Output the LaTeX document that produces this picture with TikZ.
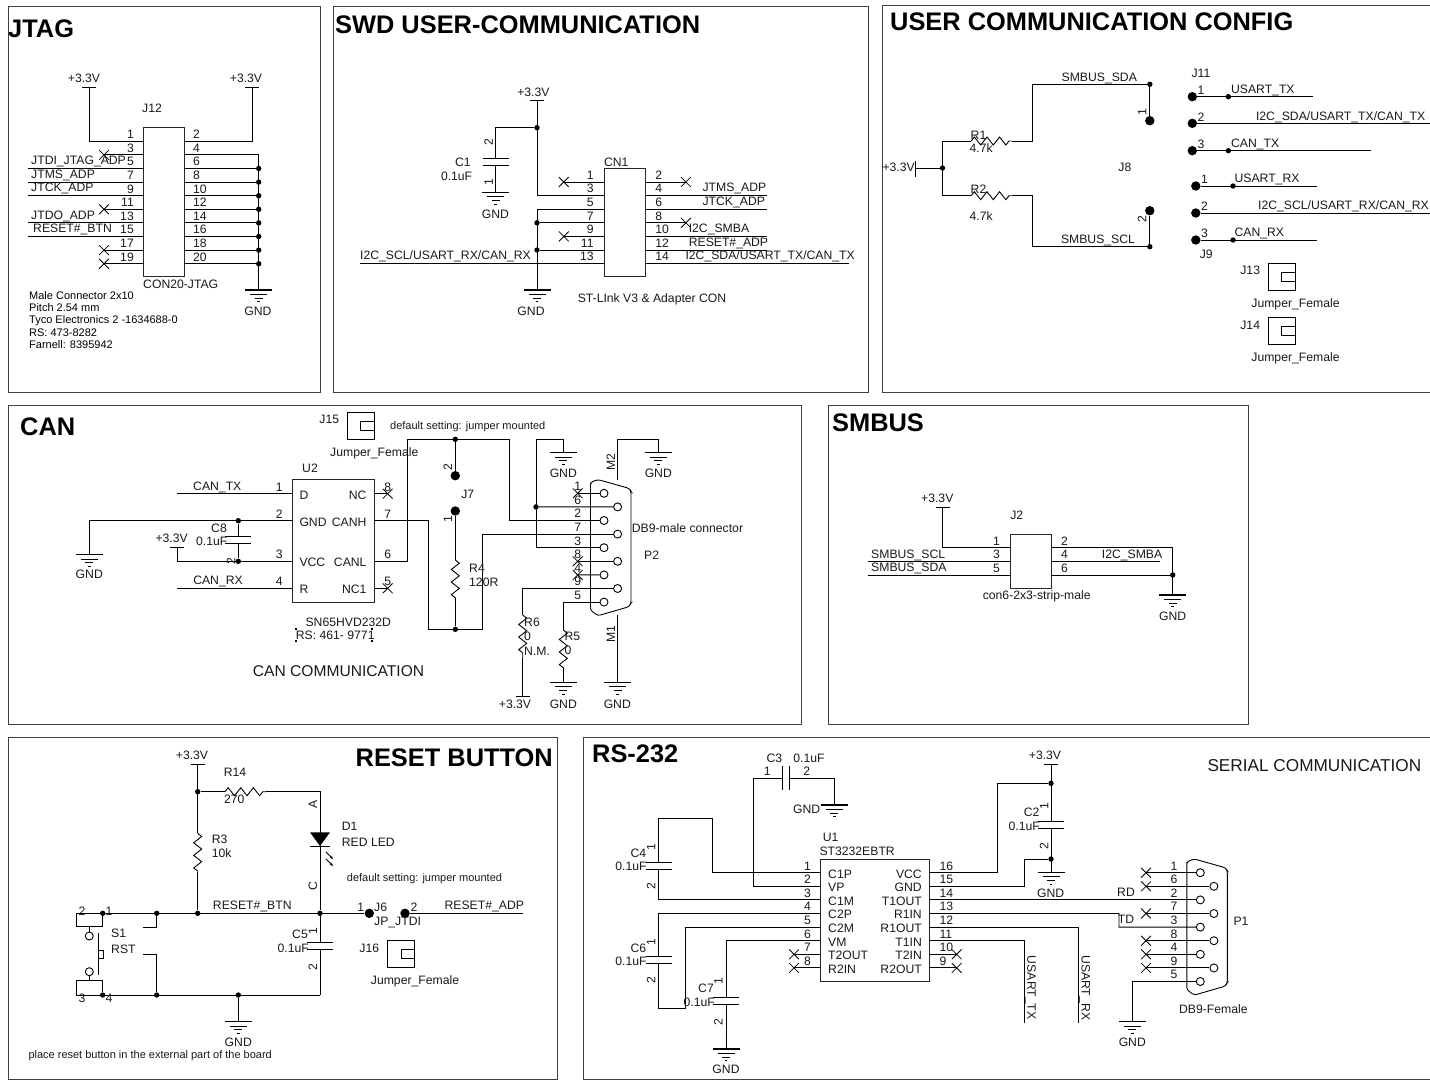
\documentclass[tikz,border=0pt]{standalone}
\usepackage{fontspec}
\setmainfont{Liberation Sans}
\usetikzlibrary{arrows.meta,shapes.misc,decorations.pathmorphing}

\begin{document}
\begin{tikzpicture}[x=1pt, y=-1pt,
    wire/.style={draw=black, line width=0.9pt},
    res/.style={decorate, decoration={zigzag, segment length=12.6pt, amplitude=4pt}},
    panel/.style={draw=black!75, line width=1pt},
    boxed/.style={draw=black!85, line width=1pt, inner sep=0pt, minimum width=#1},
    jdot/.style={circle, fill=black, inner sep=0pt, minimum size=5.4pt},
    bigdot/.style={circle, fill=black, inner sep=0pt, minimum size=9.4pt},
    pinring/.style={circle, draw=black, line width=0.9pt, fill=white, inner sep=0pt, minimum size=8pt},
    ncx/.style={cross out, draw=black, line width=0.8pt, inner sep=0pt, minimum size=9pt},
    lbl/.style={font=\fontsize{12.2pt}{13pt}\selectfont, inner sep=0pt, text height=8.7pt, text depth=0pt, text=black!90},
    small/.style={lbl, font=\fontsize{11pt}{12pt}\selectfont, text height=7.9pt},
    head/.style={font=\fontsize{25.4pt}{27pt}\selectfont\bfseries, inner sep=0pt, text height=18pt, text depth=0pt},
    pinrot/.style={lbl, rotate=90},
    pics/gndsym/.style={code={
        \draw[line width=1.1pt] (-13.5,0) -- (13.5,0);
        \draw[line width=0.8pt] (-8.5,4.2) -- (8.5,4.2);
        \draw[line width=0.8pt] (-4,8) -- (4,8);
        \draw[line width=0.8pt] (-1.3,11.7) -- (1.3,11.7);
    }},
    pics/vccsym/.style={code={\draw[line width=1pt] (-7,0) -- (7,0);}},
    pics/capv/.style={code={
        \fill[white] (-13,-3.5) rectangle (13,3.5);
        \draw[line width=1pt] (-13,-3.5) -- (13,-3.5);
        \draw[line width=1pt] (-13,3.5) -- (13,3.5);
    }},
    pics/caph/.style={code={
        \fill[white] (-3.6,-12) rectangle (3.6,12);
        \draw[line width=1pt] (-3.6,-12) -- (-3.6,12);
        \draw[line width=1pt] (3.6,-12) -- (3.6,12);
    }},
    pics/jumperf/.style={code={
        \draw[line width=1pt] (-13.5,-13.5) rectangle (13.5,13.5);
        \draw[line width=0.9pt] (0,-4.2) rectangle (13.5,4.2);
    }},
    pics/db9/.style={code={
        \draw[wire, rounded corners=2.5pt] (-13.5,-8) -- (-13.5,-11) -- (-6,-13.7) -- (25,-5) -- (27,-2)
            -- (27,110) -- (25,113.4) -- (-6,122.4) -- (-13.5,117) -- cycle;
        \foreach \n/\px/\py in {1/0/0,6/13.6/13.6,2/0/27.2,7/13.6/40.8,3/0/54.4,8/13.6/68,4/0/81.6,9/13.6/95.2,5/0/108.8} {
            \node[pinring] (pin\n) at (\px,\py) {};
            \node[lbl] (num\n) at (-26.3,\py-7) {\n};
        }
    }}]
    \useasboundingbox (0,0) rectangle (1430,1080);

    % Sheet frames
    \foreach \xa/\ya/\xb/\yb in {8/6/320/392, 333/6/868/392, 882/5.5/1445/392, 8/405/801/724,
        828/405/1248/724, 8/737/557/1079.5, 583/737/1445/1079.5}
        \draw[panel] (\xa,\ya) rectangle (\xb,\yb);

    % Titles
    \node[head, anchor=west] (tJtag) at (8,28) {JTAG};
    \node[head, anchor=west] (tSwd) at (335,24) {SWD USER-COMMUNICATION};
    \node[head, anchor=west] (tUser) at (890,21) {USER COMMUNICATION CONFIG};
    \node[head, anchor=west] (tCan) at (20,426) {CAN};
    \node[head, anchor=west] (tSmbus) at (832,422) {SMBUS};
    \node[head, anchor=east] (tReset) at (553,757) {RESET BUTTON};
    \node[head, anchor=west] (tRs) at (592,753) {RS-232};

    % JTAG connector
    \node[boxed=41.5pt, minimum height=148.5pt] (J12) at (163.75,201.75) {};
    \node[lbl] (nJ12) at (152,108) {J12};
    \node[lbl] (vJa) at (84,78) {+3.3V};
    \node[lbl] (vJb) at (246,78) {+3.3V};
    \coordinate (jva) at (89,87);
    \coordinate (jvb) at (252,87);
    \pic at (jva) {vccsym};
    \pic at (jvb) {vccsym};
    \foreach \n/\y in {1/141.3,3/154.9,5/168.5,7/182.1,9/195.7,11/209.3,13/222.9,15/236.5,17/250.1,19/263.7} {
        \coordinate (jtl\n) at (143,\y);
        \node[lbl, anchor=east] (jtn\n) at (134,\y-7) {\n};
    }
    \foreach \n/\y in {2/141.3,4/154.9,6/168.5,8/182.1,10/195.7,12/209.3,14/222.9,16/236.5,18/250.1,20/263.7} {
        \coordinate (jtr\n) at (184.5,\y);
        \node[lbl, anchor=west] (jtn\n) at (193,\y-7) {\n};
    }
    \foreach \n/\y in {5/168.5,7/182.1,9/195.7,13/222.9,15/236.5} {
        \coordinate (jte\n) at (28,\y);
        \draw[wire] (jte\n) -- (jtl\n);
    }
    \foreach \n/\y in {3/154.9,11/209.3,17/250.1,19/263.7} {
        \node[ncx] (jtx\n) at (104,\y) {};
        \draw[wire] (jtx\n.center) -- (jtl\n);
    }
    \foreach \n/\y in {6/168.5,8/182.1,10/195.7,12/209.3,14/222.9,16/236.5,18/250.1,20/263.7} {
        \node[jdot] (jtb\n) at (258.7,\y) {};
        \draw[wire] (jtb\n) -- (jtr\n);
    }
    \coordinate (jtg) at (258.7,290);
    \coordinate (jtc) at (258.7,154.9);
    \draw[wire] (jva) |- (jtl1);
    \draw[wire] (jvb) |- (jtr2);
    \draw[wire] (jtr4) -- (jtc) -- (jtg);
    \pic at (jtg) {gndsym};
    \node[lbl] (gJ) at (258,311) {GND};
    \node[lbl, anchor=west] (sJa) at (31,160) {JTDI\_JTAG\_ADP};
    \node[lbl, anchor=west] (sJb) at (31,174) {JTMS\_ADP};
    \node[lbl, anchor=west] (sJc) at (31,187) {JTCK\_ADP};
    \node[lbl, anchor=west] (sJd) at (31,215) {JTDO\_ADP};
    \node[lbl, anchor=west] (sJe) at (33,228) {RESET\#\_BTN};
    \node[lbl, anchor=west] (mJ12) at (143,284) {CON20-JTAG};
    \node[font=\fontsize{11pt}{12.4pt}\selectfont, inner sep=0pt, align=left, anchor=north west] (noteJ) at (29,291)
        {Male Connector 2x10\\Pitch 2.54 mm\\Tyco Electronics 2 -1634688-0\\RS: 473-8282\\Farnell: 8395942};

    % ST-Link connector
    \node[boxed=40.7pt, minimum height=108.4pt] (CN1) at (625.15,222.5) {};
    \node[lbl] (nCN1) at (616.2,161.7) {CN1};
    \node[lbl] (vS) at (533.4,92) {+3.3V};
    \coordinate (sv) at (537,100.7);
    \pic at (sv) {vccsym};
    \foreach \n/\y in {1/182,3/195.6,5/209.2,7/222.8,9/236.4,11/250,13/263.6} {
        \coordinate (cnl\n) at (604.8,\y);
        \node[lbl, anchor=east] (cnn\n) at (593.8,\y-7) {\n};
    }
    \foreach \n/\y in {2/182,4/195.6,6/209.2,8/222.8,10/236.4,12/250,14/263.6} {
        \coordinate (cnr\n) at (645.5,\y);
        \node[lbl, anchor=west] (cnn\n) at (655.2,\y-7) {\n};
    }
    \foreach \n/\y in {1/182,9/236.4} {
        \node[ncx] (cnx\n) at (563.8,\y) {};
        \draw[wire] (cnx\n.center) -- (cnl\n);
    }
    \foreach \n/\y in {2/182,8/222.8} {
        \node[ncx] (cnx\n) at (685.9,\y) {};
        \draw[wire] (cnx\n.center) -- (cnr\n);
    }
    \foreach \n/\y/\e in {4/195.6/767.2,6/209.2/767.2,10/236.4/767.2,12/250/767.2,14/263.6/849} {
        \coordinate (cne\n) at (\e,\y);
        \draw[wire] (cnr\n) -- (cne\n);
    }
    \node[jdot] (sj) at (537,127.7) {};
    \node[jdot] (sj7) at (537,222.8) {};
    \node[jdot] (sj11) at (537,250) {};
    \coordinate (sc) at (495.5,127.7);
    \coordinate (sg) at (495.5,192.3);
    \coordinate (sb) at (537,209.2);
    \coordinate (sgb) at (537,290);
    \coordinate (se13) at (360.3,263.6);
    \draw[wire] (sv) |- (cnl3);
    \draw[wire] (sj) -- (sc) -- (sg);
    \draw[wire] (cnl5) -- (sb) -- (sgb);
    \draw[wire] (sj7) -- (cnl7);
    \draw[wire] (sj11) -- (cnl11);
    \draw[wire] (se13) -- (cnl13);
    \pic at (495.5,162.3) {capv};
    \pic at (sg) {gndsym};
    \pic at (sgb) {gndsym};
    \node[pinrot] (c1b) at (488.6,142) {2};
    \node[pinrot] (c1a) at (488.6,181.7) {1};
    \node[lbl] (nC1) at (462.8,162) {C1};
    \node[lbl] (vC1) at (456.6,176) {0.1uF};
    \node[lbl] (gSa) at (495.5,214) {GND};
    \node[lbl] (gSb) at (531,311) {GND};
    \node[lbl, anchor=east] (sSa) at (531,255) {I2C\_SCL/USART\_RX/CAN\_RX};
    \node[lbl, anchor=west] (sSb) at (702.4,186.7) {JTMS\_ADP};
    \node[lbl, anchor=west] (sSc) at (702.4,200.7) {JTCK\_ADP};
    \node[lbl, anchor=west] (sSd) at (688.6,227.7) {I2C\_SMBA};
    \node[lbl, anchor=west] (sSe) at (688.6,241.7) {RESET\#\_ADP};
    \node[lbl, anchor=east] (sSf) at (855,255) {I2C\_SDA/USART\_TX/CAN\_TX};
    \node[lbl, anchor=west] (mCN1) at (577.6,297.7) {ST-LInk V3 \& Adapter CON};

    % User communication config
    \coordinate (uv) at (915.8,168);
    \node[jdot] (uj) at (942.5,168) {};
    \coordinate (ua) at (942.5,141);
    \coordinate (ub) at (942.5,195.7);
    \coordinate (r1a) at (971.2,141);
    \coordinate (r1b) at (1011.6,141);
    \coordinate (r2a) at (971.2,195.7);
    \coordinate (r2b) at (1011.6,195.7);
    \coordinate (ua2) at (1032,84.3);
    \coordinate (ub2) at (1032,246.7);
    \node[jdot] (j8a) at (1149.8,84.3) {};
    \node[jdot] (j8b) at (1149.8,246.7) {};
    \node[bigdot] (j8c) at (1149.8,120.7) {};
    \node[bigdot] (j8d) at (1149.8,210.7) {};
    \draw[line width=1pt] (915.8,161) -- (915.8,177);
    \draw[wire] (uv) -- (uj);
    \draw[wire] (r1a) -- (ua) -- (ub) -- (r2a);
    \draw[wire, res] (r1a) -- (r1b);
    \draw[wire, res] (r2a) -- (r2b);
    \draw[wire] (r1b) -| (ua2) -- (j8a) -- (j8c);
    \draw[wire] (r2b) -| (ub2) -- (j8b) -- (j8d);
    \node[lbl, anchor=east] (vU) at (915,166.7) {+3.3V};
    \node[lbl, anchor=west] (nR1) at (970.5,135) {R1};
    \node[lbl, anchor=west] (vR1) at (969.5,148) {4.7k};
    \node[lbl, anchor=west] (nR2) at (970.5,189) {R2};
    \node[lbl, anchor=west] (vR2) at (969.5,215.7) {4.7k};
    \node[lbl] (sUa) at (1099.3,76.7) {SMBUS\_SDA};
    \node[lbl] (sUb) at (1098,238.7) {SMBUS\_SCL};
    \node[pinrot] (j8p1) at (1142,112) {1};
    \node[pinrot] (j8p2) at (1142,219) {2};
    \node[lbl] (nJ8) at (1124.9,167) {J8};
    \node[lbl] (nJ11) at (1201,72.7) {J11};
    \node[lbl] (nJ9) at (1206.3,254) {J9};
    \foreach \n/\y/\e in {1/96.7/1312.6, 2/123.3/1445, 3/150.7/1371.2} {
        \node[bigdot] (jxa\n) at (1192.3,\y) {};
        \coordinate (jxe\n) at (\e,\y);
        \draw[wire] (jxa\n) -- (jxe\n);
        \node[lbl] (jxn\n) at (1201,\y-6.5) {\n};
    }
    \node[jdot] (jxd1) at (1228.4,96.7) {};
    \node[jdot] (jxd3) at (1228.4,150.7) {};
    \foreach \n/\y/\e in {1/186/1317.2, 2/213/1445, 3/240/1317.2} {
        \node[bigdot] (jya\n) at (1195.8,\y) {};
        \coordinate (jye\n) at (\e,\y);
        \draw[wire] (jya\n) -- (jye\n);
        \node[lbl] (jyn\n) at (1204.6,\y-7) {\n};
    }
    \node[jdot] (jyd1) at (1233,186) {};
    \node[jdot] (jyd3) at (1233,240) {};
    \node[lbl, anchor=west] (sXa) at (1230.9,88.7) {USART\_TX};
    \node[lbl, anchor=east] (sXb) at (1425.5,115.7) {I2C\_SDA/USART\_TX/CAN\_TX};
    \node[lbl, anchor=west] (sXc) at (1230.9,142.7) {CAN\_TX};
    \node[lbl, anchor=west] (sYa) at (1234.4,178) {USART\_RX};
    \node[lbl, anchor=east] (sYb) at (1429,204.7) {I2C\_SCL/USART\_RX/CAN\_RX};
    \node[lbl, anchor=west] (sYc) at (1234.4,232) {CAN\_RX};
    \pic at (1281.5,277) {jumperf};
    \pic at (1281.5,331) {jumperf};
    \node[lbl] (nJ13) at (1250.2,270) {J13};
    \node[lbl] (nJ14) at (1250.2,325) {J14};
    \node[lbl] (mJ13) at (1295.5,302.7) {Jumper\_Female};
    \node[lbl] (mJ14) at (1295.5,356.7) {Jumper\_Female};

    % CAN transceiver and DB9 male
    \node[boxed=81.7pt, minimum height=122.3pt] (U2) at (333.15,540.85) {};
    \node[lbl] (nU2) at (310,468) {U2};
    \pic (p2) at (604,493.3) {db9};
    \foreach \n/\t/\y in {1/D/493.7,2/GND/520.7,3/VCC/561.3,4/R/588.3} {
        \coordinate (u2l\n) at (292.3,\y);
        \node[lbl] (u2n\n) at (279.3,\y-7) {\n};
        \node[lbl, anchor=west] (u2t\n) at (299.3,\y+1.3) {\t};
    }
    \foreach \n/\t/\y in {8/NC/493.7,7/CANH/520.7,6/CANL/561.3,5/NC1/588.3} {
        \coordinate (u2r\n) at (374,\y);
        \node[lbl] (u2n\n) at (387.7,\y-7) {\n};
        \node[lbl, anchor=east] (u2t\n) at (366.7,\y+1.3) {\t};
    }
    \foreach \n/\y in {8/493.7,5/588.3} {
        \node[ncx] (u2x\n) at (387.7,\y) {};
        \draw[wire] (u2x\n.center) -- (u2r\n);
    }
    \coordinate (cl1) at (177.3,493.7);
    \coordinate (cl4) at (177.3,588.3);
    \coordinate (cg) at (89.3,554.7);
    \coordinate (cgb) at (89.3,520.7);
    \coordinate (cv) at (177.3,547.7);
    \coordinate (cvb) at (177.3,561.3);
    \node[jdot] (c8a) at (238.3,520.7) {};
    \node[jdot] (c8b) at (238.3,561.3) {};
    \draw[wire] (cl1) -- (u2l1);
    \draw[wire] (cl4) -- (u2l4);
    \draw[wire] (cg) -- (cgb) -- (u2l2);
    \draw[wire] (cv) -- (cvb) -- (u2l3);
    \draw[wire] (c8a) -- (c8b);
    \pic at (238.3,540.4) {capv};
    \pic at (cg) {gndsym};
    \pic at (cv) {vccsym};
    \node[lbl] (gCa) at (89.3,574) {GND};
    \node[lbl] (vCa) at (171.7,537.7) {+3.3V};
    \node[lbl] (sCa) at (217.3,486) {CAN\_TX};
    \node[lbl] (sCb) at (218,580) {CAN\_RX};
    \node[lbl] (nC8) at (219,527.7) {C8};
    \node[lbl] (vC8) at (211.7,541) {0.1uF};
    \node[pinrot] (c8p2) at (231,561) {2};
    \node[lbl] (mU2) at (348.3,621.7) {SN65HVD232D};
    \node[lbl, anchor=west] (rsU2) at (295.7,635) {RS: 461- 9771};
    \foreach \x/\y in {295.7/629,372/629,295.7/641,372/641}
        \fill (\x-1,\y-1) rectangle (\x+1,\y+1);
    \node[lbl, font=\fontsize{15.6pt}{17pt}\selectfont, text height=11.4pt, anchor=west] (mCan) at (252.7,670.7) {CAN COMMUNICATION};
    \pic at (360.5,425.8) {jumperf};
    \node[lbl] (nJ15) at (329.3,419) {J15};
    \node[lbl] (mJ15) at (374.3,451.7) {Jumper\_Female};
    \node[small, anchor=west] (dfC) at (390,426) {default setting: jumper mounted};

    % Bus wiring, jumper J7 and terminator
    \coordinate (hb) at (428.3,629.3);
    \coordinate (hc) at (482.3,629.3);
    \coordinate (la) at (407.7,439.3);
    \coordinate (lb) at (509.3,439.3);
    \node[jdot] (j7t) at (455.3,439.3) {};
    \node[jdot] (j7b) at (455.3,629.3) {};
    \node[bigdot] (j7p2) at (455.3,475.7) {};
    \node[bigdot] (j7p1) at (455.3,511) {};
    \coordinate (r4a) at (455.3,560);
    \coordinate (r4b) at (455.3,601);
    \draw[wire] (u2r7) -| (hb) -- (hc) |- (p2pin7);
    \draw[wire] (u2r6) -| (la) -- (lb) |- (p2pin2);
    \draw[wire] (j7t) -- (j7p2);
    \draw[wire] (j7p1) -- (r4a);
    \draw[wire, res] (r4a) -- (r4b);
    \draw[wire] (r4b) -- (j7b);
    \node[pinrot] (j7n2) at (447.7,467.3) {2};
    \node[pinrot] (j7n1) at (447.7,519.3) {1};
    \node[lbl] (nJ7) at (467.7,494) {J7};
    \node[lbl, anchor=west] (nR4) at (469,567.7) {R4};
    \node[lbl, anchor=west] (vR4) at (469,581.7) {120R};
    \node[jdot] (p2j) at (536,506.9) {};
    \coordinate (gb) at (536,439.3);
    \coordinate (gc) at (563.3,439.3);
    \coordinate (ga) at (563.3,452.7);
    \draw[wire] (p2pin6) -- (p2j);
    \draw[wire] (p2pin3) -| (gb) -- (gc) -- (ga);
    \pic at (ga) {gndsym};
    \node[lbl] (gCb) at (563.3,472.7) {GND};
    \coordinate (m2a) at (617.7,480);
    \coordinate (m2b) at (617.7,439.3);
    \coordinate (m2g) at (658.3,452.7);
    \draw[wire] (m2a) -- (m2b) -| (m2g);
    \pic at (m2g) {gndsym};
    \node[lbl] (gCc) at (658.3,472.7) {GND};
    \node[pinrot] (nM2) at (610.7,461.7) {M2};
    \coordinate (m1a) at (617.7,615);
    \coordinate (m1g) at (617.7,682.3);
    \draw[wire] (m1a) -- (m1g);
    \pic at (m1g) {gndsym};
    \node[lbl] (gCd) at (617.3,703.7) {GND};
    \node[pinrot] (nM1) at (610.7,634) {M1};
    \foreach \n/\y in {1/493.3,8/561.3,4/574.9} {
        \node[ncx] (p2x\n) at (577.7,\y) {};
        \draw[wire] (p2x\n.center) -- (p2pin\n);
    }
    \coordinate (r6a) at (522.7,615);
    \coordinate (r6b) at (522.7,658.3);
    \coordinate (r6c) at (522.7,696.7);
    \coordinate (r5a) at (563.3,630);
    \coordinate (r5b) at (563.3,668.3);
    \coordinate (r5g) at (563.3,682.3);
    \draw[wire] (p2pin9) -| (r6a);
    \draw[wire, res] (r6a) -- (r6b);
    \draw[wire] (r6b) -- (r6c);
    \draw[wire] (p2pin5) -| (r5a);
    \draw[wire, res] (r5a) -- (r5b);
    \draw[wire] (r5b) -- (r5g);
    \pic at (r6c) {vccsym};
    \pic at (r5g) {gndsym};
    \node[lbl] (vCb) at (515,703.7) {+3.3V};
    \node[lbl] (gCe) at (563.3,703.7) {GND};
    \node[lbl, anchor=west] (nR6) at (524,621.7) {R6};
    \node[lbl, anchor=west] (vR6) at (524,635.7) {0};
    \node[lbl, anchor=west] (mR6) at (524,650.7) {N.M.};
    \node[lbl, anchor=west] (nR5) at (564.3,635.7) {R5};
    \node[lbl, anchor=west] (vR5) at (564.3,650) {0};
    \node[lbl, anchor=west] (mP2) at (631.7,528) {DB9-male connector};
    \node[lbl] (nP2) at (651.7,555) {P2};

    % SMBUS header
    \node[boxed=41pt, minimum height=54.3pt] (J2) at (1031.2,561.15) {};
    \node[lbl] (nJ2) at (1016.7,515) {J2};
    \foreach \n/\y in {1/547.7,3/561.3,5/575} {
        \coordinate (j2l\n) at (1010.7,\y);
        \node[lbl, anchor=east] (j2n\n) at (1000,\y-7) {\n};
    }
    \foreach \n/\y in {2/547.7,4/561.3,6/575} {
        \coordinate (j2r\n) at (1051.7,\y);
        \node[lbl, anchor=west] (j2n\n) at (1061,\y-7) {\n};
    }
    \coordinate (j2v) at (942.7,507.3);
    \coordinate (j2e3) at (868.3,561.3);
    \coordinate (j2e5) at (868.3,575);
    \coordinate (j2e4) at (1160,561.3);
    \coordinate (j2t) at (1172.7,547.7);
    \coordinate (j2g) at (1172.7,595);
    \node[jdot] (j2j) at (1172.7,575) {};
    \draw[wire] (j2v) |- (j2l1);
    \draw[wire] (j2e3) -- (j2l3);
    \draw[wire] (j2e5) -- (j2l5);
    \draw[wire] (j2r2) -- (j2t) -- (j2g);
    \draw[wire] (j2r4) -- (j2e4);
    \draw[wire] (j2r6) -- (j2j);
    \pic at (j2v) {vccsym};
    \pic at (j2g) {gndsym};
    \node[lbl] (vM) at (937.3,497.7) {+3.3V};
    \node[lbl] (gM) at (1172.7,615.7) {GND};
    \node[lbl, anchor=west] (sMa) at (871,554) {SMBUS\_SCL};
    \node[lbl, anchor=west] (sMb) at (871,567.3) {SMBUS\_SDA};
    \node[lbl, anchor=west] (sMc) at (1101.7,554) {I2C\_SMBA};
    \node[lbl] (mJ2) at (1036.7,595.3) {con6-2x3-strip-male};

    % Reset button and LED
    \node[jdot] (rj1) at (102.7,913.3) {};
    \node[jdot] (rj2) at (156.7,913.3) {};
    \node[jdot] (rj3) at (197.7,913.3) {};
    \node[jdot] (rj4) at (320,913.3) {};
    \node[bigdot] (j6a) at (369.3,913.3) {};
    \node[bigdot] (j6b) at (405,913.3) {};
    \node[jdot] (rv) at (197.7,791.7) {};
    \node[jdot] (rb1) at (102.7,995) {};
    \node[jdot] (rb2) at (156.7,995) {};
    \node[jdot] (rb3) at (238.3,995) {};
    \coordinate (rs0) at (76,913.3);
    \coordinate (rend) at (523.3,913.3);
    \coordinate (rb0) at (76,995);
    \coordinate (rb5) at (320,995);
    \coordinate (rtop) at (197.7,764);
    \coordinate (r3a) at (197.7,833.3);
    \coordinate (r3b) at (197.7,871.7);
    \coordinate (r14a) at (225,791.7);
    \coordinate (r14b) at (266,791.7);
    \coordinate (rg) at (238.3,1021.7);
    \coordinate (sta) at (143.3,927.3);
    \coordinate (stb) at (143.3,954);
    \coordinate (sla) at (76,926.7);
    \coordinate (slb) at (102.7,926.7);
    \coordinate (slc) at (76,980.7);
    \coordinate (sld) at (102.7,980.7);
    \draw[wire] (rs0) -- (j6a);
    \draw[wire] (j6b) -- (rend);
    \draw[wire] (rb0) -- (rb5);
    \draw[wire] (rtop) -- (r3a);
    \draw[wire, res] (r3a) -- (r3b);
    \draw[wire] (r3b) -- (rj3);
    \draw[wire] (rv) -- (r14a);
    \draw[wire, res] (r14a) -- (r14b);
    \draw[wire] (r14b) -| (rj4);
    \draw[wire] (rj4) -- (rb5);
    \draw[wire] (rb3) -- (rg);
    \draw[wire] (sta) -| (rj2);
    \draw[wire] (stb) -| (rb2);
    \draw[wire] (rs0) -- (sla) -- (slb) -- (rj1);
    \draw[wire] (rb0) -- (slc) -- (sld) -- (rb1);
    \node[pinring] (s1u) at (89.3,936) {};
    \node[pinring] (s1d) at (89.3,971.7) {};
    \draw[wire] (89.3,926.7) -- (s1u);
    \draw[wire] (89.3,980.7) -- (s1d);
    \draw[line width=1.5pt] (98.3,933.3) -- (98.3,975);
    \draw[line width=0.8pt, fill=white] (98.3,950.7) rectangle (103.3,958.3);
    \fill (310,832.3) -- (330,832.3) -- (320,846) -- cycle;
    \draw[line width=1pt] (310,846) -- (330,846);
    \draw[line width=0.8pt, -{Stealth[length=3.5pt,width=3pt]}] (326,852) -- (333,859);
    \draw[line width=0.8pt, -{Stealth[length=3.5pt,width=3pt]}] (326,859) -- (333,866);
    \pic at (320,946.3) {capv};
    \pic at (rtop) {vccsym};
    \pic at (rg) {gndsym};
    \node[lbl] (vR) at (192,755) {+3.3V};
    \node[lbl] (gR) at (238.3,1042.3) {GND};
    \node[lbl] (nR14) at (235,771.7) {R14};
    \node[lbl] (vR14) at (234.3,799) {270};
    \node[lbl, anchor=west] (nR3) at (211.7,838.7) {R3};
    \node[lbl, anchor=west] (vR3) at (211.7,853.3) {10k};
    \node[pinrot] (dA) at (312.7,804.3) {A};
    \node[pinrot] (dC) at (312.7,886) {C};
    \node[lbl, anchor=west] (nD1) at (341.7,825.7) {D1};
    \node[lbl, anchor=west] (vD1) at (341.7,841.7) {RED LED};
    \node[small, anchor=west] (dfR) at (346.7,878) {default setting: jumper mounted};
    \node[lbl] (sRa) at (252.3,905) {RESET\#\_BTN};
    \node[lbl] (sRb) at (484.3,905) {RESET\#\_ADP};
    \node[lbl] (j6n1) at (360.7,906.7) {1};
    \node[lbl] (j6n2) at (414,906.7) {2};
    \node[lbl, anchor=west] (nJ6) at (374,906.7) {J6};
    \node[lbl, anchor=west] (vJ6) at (374,921) {JP\_JTDI};
    \node[lbl] (nC5) at (300,934) {C5};
    \node[lbl] (vC5) at (293.3,948) {0.1uF};
    \node[pinrot] (c5a) at (312.7,930.7) {1};
    \node[pinrot] (c5b) at (312.7,966.7) {2};
    \pic at (401,954) {jumperf};
    \node[lbl] (nJ16) at (369.3,948) {J16};
    \node[lbl] (mJ16) at (415,980) {Jumper\_Female};
    \node[lbl, anchor=west] (nS1) at (111,933.3) {S1};
    \node[lbl, anchor=west] (vS1) at (111,949.3) {RST};
    \node[lbl] (s1p2) at (82,910.7) {2};
    \node[lbl] (s1p1) at (109,910.7) {1};
    \node[lbl] (s1p3) at (82,998) {3};
    \node[lbl] (s1p4) at (109,998) {4};
    \node[small, anchor=west] (pl) at (28.3,1055) {place reset button in the external part of the board};

    % RS-232 driver
    \node[boxed=108.6pt, minimum height=122.4pt] (U1) at (875,920.5) {};
    \node[lbl] (nU1) at (830.7,836.7) {U1};
    \node[lbl, anchor=west] (mU1) at (819.3,851) {ST3232EBTR};
    \pic (p1) at (1200.3,872.7) {db9};
    \foreach \n/\t/\y in {1/C1P/872.7,2/VP/886.3,3/C1M/899.9,4/C2P/913.5,5/C2M/927.1,6/VM/940.7,7/T2OUT/954.3,8/R2IN/967.9} {
        \coordinate (ull\n) at (820.7,\y);
        \node[lbl, anchor=east] (uln\n) at (811,\y-7) {\n};
        \node[lbl, anchor=west] (ult\n) at (828,\y+1) {\t};
    }
    \foreach \n/\t/\y in {16/VCC/872.7,15/GND/886.3,14/T1OUT/899.9,13/R1IN/913.5,12/R1OUT/927.1,11/T1IN/940.7,10/T2IN/954.3,9/R2OUT/967.9} {
        \coordinate (url\n) at (929.3,\y);
        \node[lbl, anchor=west] (urn\n) at (939.3,\y-7) {\n};
        \node[lbl, anchor=east] (urt\n) at (922,\y+1) {\t};
    }
    \foreach \n/\y in {7/954.3,8/967.9} {
        \node[ncx] (ulx\n) at (794,\y) {};
        \draw[wire] (ulx\n.center) -- (ull\n);
    }
    \foreach \n/\y in {10/954.3,9/967.9} {
        \node[ncx] (urx\n) at (956.7,\y) {};
        \draw[wire] (urx\n.center) -- (url\n);
    }
    \coordinate (c4a) at (712.7,818.7);
    \coordinate (c4b) at (658.7,818.7);
    \coordinate (c3a) at (753,778.3);
    \coordinate (c3b) at (834.3,778.3);
    \coordinate (g3) at (834.3,805);
    \coordinate (c6a) at (658.7,1008.3);
    \coordinate (c6b) at (685.7,1008.3);
    \coordinate (g7) at (726,1049);
    \draw[wire] (ull1) -| (c4a) -- (c4b) |- (ull3);
    \draw[wire] (ull2) -| (c3a) -- (c3b) -- (g3);
    \draw[wire] (ull4) -| (c6a) -- (c6b) |- (ull5);
    \draw[wire] (ull6) -| (g7);
    \pic at (658.7,865.7) {capv};
    \pic at (658.7,960) {capv};
    \pic at (726,1001) {capv};
    \pic at (786.3,778.3) {caph};
    \pic at (g3) {gndsym};
    \pic at (g7) {gndsym};
    \node[lbl] (nC3) at (774.3,757.7) {C3};
    \node[lbl] (vC3) at (809,757.7) {0.1uF};
    \node[lbl] (c3p1) at (767.3,771) {1};
    \node[lbl] (c3p2) at (806.7,771) {2};
    \node[lbl] (gUa) at (806.7,809) {GND};
    \node[lbl] (nC4) at (638.3,852.7) {C4};
    \node[lbl] (vC4) at (631,866) {0.1uF};
    \node[pinrot] (c4p1) at (651,846.7) {1};
    \node[pinrot] (c4p2) at (651,885.7) {2};
    \node[lbl] (nC6) at (638.3,947.7) {C6};
    \node[lbl] (vC6) at (631,960.7) {0.1uF};
    \node[pinrot] (c6p1) at (651,941.7) {1};
    \node[pinrot] (c6p2) at (651,980) {2};
    \node[lbl] (nC7) at (706,987.7) {C7};
    \node[lbl] (vC7) at (699.3,1001.7) {0.1uF};
    \node[pinrot] (c7p1) at (718.3,981) {1};
    \node[pinrot] (c7p2) at (718.3,1021.7) {2};
    \node[lbl] (gUb) at (726,1069) {GND};

    % Supply side and DB9 female
    \coordinate (v1) at (997,783.3);
    \coordinate (v2) at (1024,859);
    \coordinate (vtop) at (1051,764.3);
    \coordinate (g2) at (1051,872.3);
    \node[jdot] (vj) at (1051,783.3) {};
    \node[jdot] (gj) at (1051,859) {};
    \coordinate (tda) at (1119,927.1);
    \coordinate (rxe) at (1078.3,1022.7);
    \coordinate (txe) at (1024,1022.7);
    \coordinate (g5) at (1132.3,1021.7);
    \draw[wire] (url16) -| (v1) -- (vj);
    \draw[wire] (url15) -| (v2) -- (gj);
    \draw[wire] (vtop) -- (g2);
    \draw[wire] (url14) -- (p1pin2);
    \draw[wire] (url13) -| (tda) -- (p1pin3);
    \draw[wire] (url12) -| (rxe);
    \draw[wire] (url11) -| (txe);
    \draw[wire] (p1pin5) -| (g5);
    \foreach \n/\y in {1/872.7,6/886.3,7/913.5,8/940.7,4/954.3,9/967.9} {
        \node[ncx] (p1x\n) at (1146,\y) {};
        \draw[wire] (p1x\n.center) -- (p1pin\n);
    }
    \pic at (1051,824.7) {capv};
    \pic at (vtop) {vccsym};
    \pic at (g2) {gndsym};
    \pic at (g5) {gndsym};
    \node[lbl] (vUa) at (1045,755) {+3.3V};
    \node[lbl] (gUc) at (1050.7,892.7) {GND};
    \node[lbl] (gUd) at (1132.3,1042.3) {GND};
    \node[lbl] (nC2) at (1031.7,811.7) {C2};
    \node[lbl] (vC2) at (1024.3,826) {0.1uF};
    \node[pinrot] (c2p1) at (1044,805.7) {1};
    \node[pinrot] (c2p2) at (1044,845.7) {2};
    \node[lbl, rotate=-90] (sPa) at (1031.7,987.7) {USART\_TX};
    \node[lbl, rotate=-90] (sPb) at (1086,987.7) {USART\_RX};
    \node[lbl] (sPc) at (1126,891.7) {RD};
    \node[lbl] (sPd) at (1126,919) {TD};
    \node[lbl] (nP1) at (1241,920.7) {P1};
    \node[lbl] (mP1) at (1213.3,1008.7) {DB9-Female};
    \node[lbl, font=\fontsize{17.2pt}{19pt}\selectfont, text height=12.3pt, anchor=west] (mSer) at (1207.3,765.7) {SERIAL COMMUNICATION};

\end{tikzpicture}
\end{document}
